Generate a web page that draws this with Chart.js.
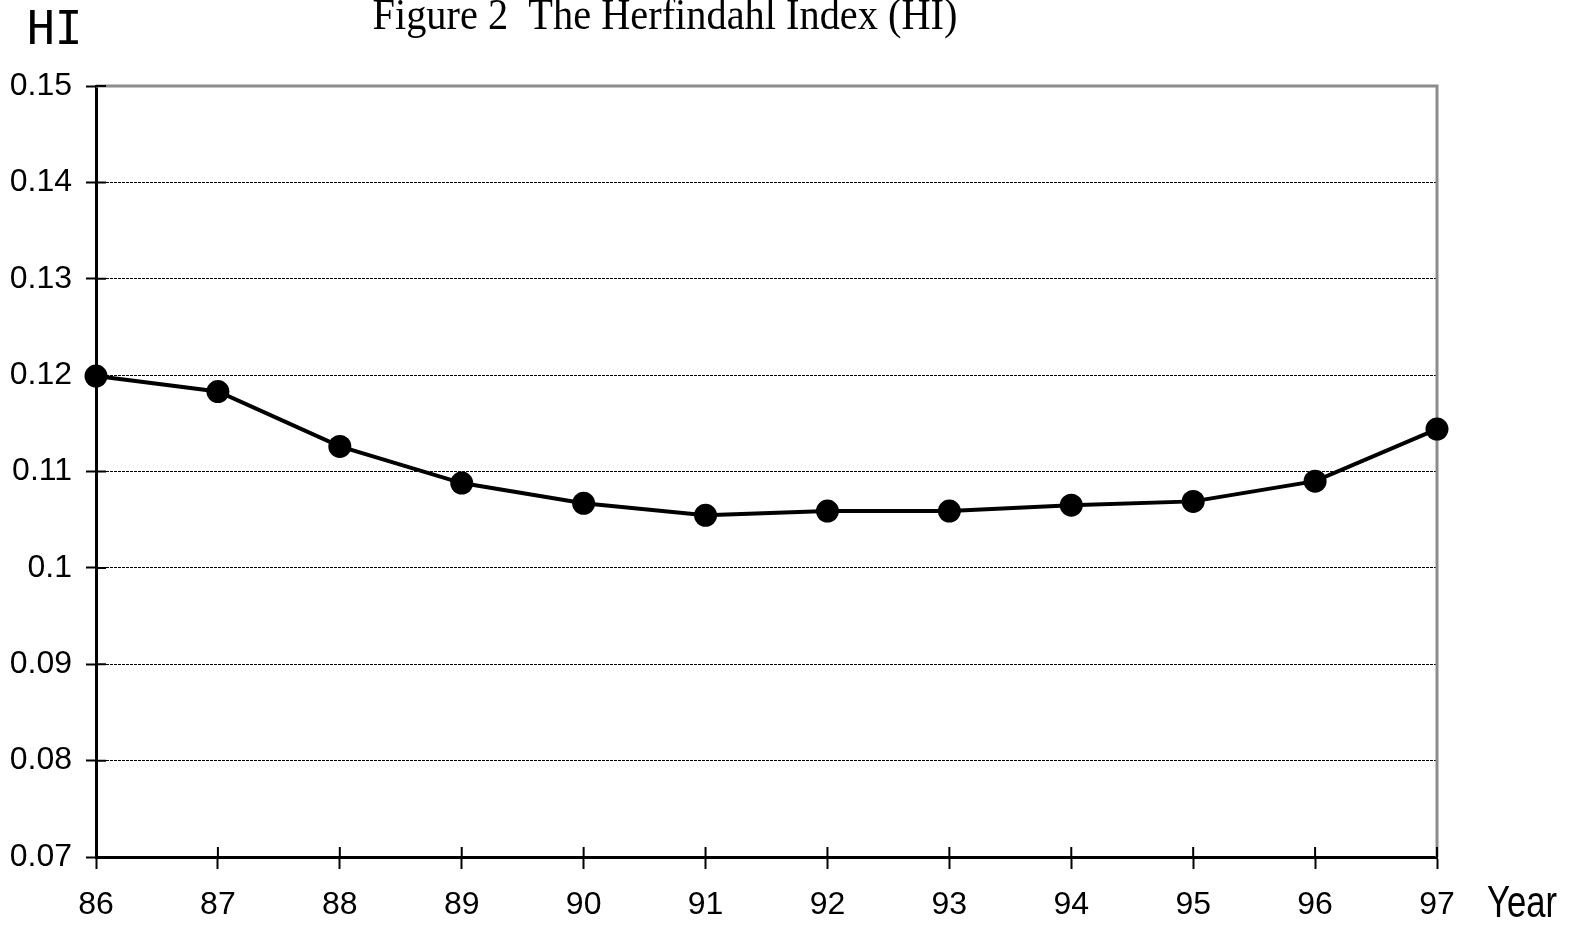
<!DOCTYPE html>
<html>
<head>
<meta charset="utf-8">
<title>Figure 2 The Herfindahl Index (HI)</title>
<script src="https://cdn.jsdelivr.net/npm/chart.js@4/dist/chart.umd.min.js"></script>
<style>
  html, body { margin: 0; padding: 0; background: #fff; }
  #hiChart { display: block; }
</style>
</head>
<body>
<canvas id="hiChart" width="1569" height="926"></canvas>
<script>
// Chart data
const years = ['86', '87', '88', '89', '90', '91', '92', '93', '94', '95', '96', '97'];
const hiValues = [0.1199, 0.1183, 0.1126, 0.1088, 0.1067, 0.10545, 0.1059, 0.1059, 0.1065, 0.1069, 0.1090, 0.1144];
const yTicks = [0.07, 0.08, 0.09, 0.10, 0.11, 0.12, 0.13, 0.14, 0.15];

const titleText = 'Figure 2  The Herfindahl Index (HI)';
const yAxisName = 'HI';
const xAxisName = 'Year';

const labelFont = "'Liberation Sans', Arial, sans-serif";

// Draws the frame, the inside halves of the tick marks and the loose texts
const extrasPlugin = {
  id: 'extras',
  beforeDatasetsDraw(chart) {
    const { ctx, chartArea: area, scales: { x, y } } = chart;
    ctx.save();
    // gray frame on top and right
    ctx.strokeStyle = '#8c8c8c';
    ctx.lineWidth = 3;
    ctx.beginPath();
    ctx.moveTo(area.left, area.top);
    ctx.lineTo(area.right, area.top);
    ctx.lineTo(area.right, area.bottom);
    ctx.stroke();
    // tick marks crossing into the plot
    ctx.strokeStyle = '#000';
    ctx.lineWidth = 2;
    ctx.beginPath();
    x.ticks.forEach((t, i) => {
      const px = x.getPixelForTick(i);
      ctx.moveTo(px, area.bottom);
      ctx.lineTo(px, area.bottom - 10);
    });
    y.ticks.forEach((t, i) => {
      const py = y.getPixelForTick(i);
      ctx.moveTo(area.left, py);
      ctx.lineTo(area.left + 10, py);
    });
    ctx.stroke();
    ctx.restore();
  },
  afterDraw(chart) {
    const { ctx, chartArea: area } = chart;
    ctx.save();
    ctx.fillStyle = '#000';
    // title, condensed like the original
    ctx.font = "44px 'Liberation Serif', 'Times New Roman', serif";
    ctx.textAlign = 'center';
    ctx.textBaseline = 'alphabetic';
    ctx.fillText(titleText, 665, 29, 585);
    // y axis name
    ctx.font = "46px 'DejaVu Sans Mono', monospace";
    ctx.textAlign = 'left';
    ctx.fillText(yAxisName, 27, 44);
    // x axis name
    ctx.font = '44px ' + labelFont;
    ctx.fillText(xAxisName, area.right + 50, area.bottom + 60, 70);
    ctx.restore();
  }
};

const ctx = document.getElementById('hiChart').getContext('2d');
new Chart(ctx, {
  type: 'line',
  data: {
    labels: years,
    datasets: [{
      data: hiValues,
      borderColor: '#000',
      borderWidth: 4,
      backgroundColor: '#000',
      pointBackgroundColor: '#000',
      pointBorderColor: '#000',
      pointRadius: 11.5,
      pointBorderWidth: 0,
      tension: 0,
      fill: false,
      clip: false
    }]
  },
  options: {
    responsive: false,
    animation: false,
    events: [],
    layout: { padding: { left: 0, top: 86, right: 132, bottom: 0 } },
    plugins: {
      legend: { display: false },
      title: { display: false },
      tooltip: { enabled: false }
    },
    scales: {
      x: {
        offset: false,
        grid: {
          drawOnChartArea: false,
          drawTicks: true,
          tickLength: 12,
          tickWidth: 2,
          tickColor: '#000'
        },
        border: { display: true, color: '#000', width: 3 },
        ticks: {
          color: '#000',
          padding: 17,
          maxRotation: 0,
          autoSkip: false,
          font: { family: labelFont, size: 32 }
        },
        afterFit(scale) { scale.height = 69; }
      },
      y: {
        min: yTicks[0],
        max: yTicks[yTicks.length - 1],
        afterBuildTicks(scale) {
          scale.ticks = yTicks.map(v => ({ value: v }));
        },
        grid: {
          color: c => (c.tick && c.tick.value >= 0.15 || c.index === 0) ? 'rgba(0,0,0,0)' : '#000',
          lineWidth: 1,
          drawTicks: true,
          tickLength: 10,
          tickWidth: 2,
          tickColor: '#000'
        },
        border: { display: true, color: '#000', width: 3, dash: [3, 1] },
        ticks: {
          color: '#000',
          padding: 14,
          font: { family: labelFont, size: 32 },
          callback: v => String(parseFloat(Number(v).toFixed(2)))
        },
        afterFit(scale) { scale.width = 96; }
      }
    }
  },
  plugins: [extrasPlugin]
});
</script>
</body>
</html>
